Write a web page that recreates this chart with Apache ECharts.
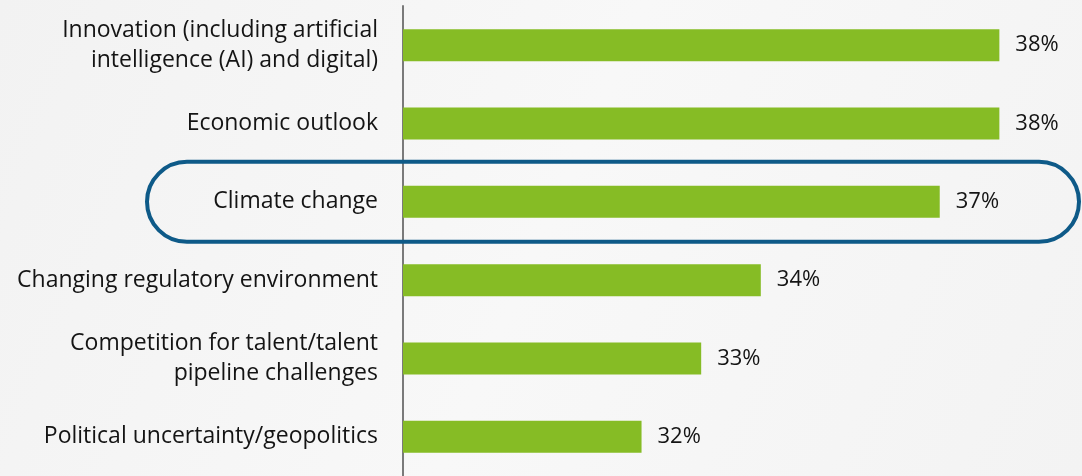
<!DOCTYPE html>
<html>
<head>
<meta charset="utf-8">
<script src="https://cdn.jsdelivr.net/npm/echarts@6/dist/echarts.min.js"></script>
<style>
  html, body { margin: 0; padding: 0; }
  #chart { width: 1082px; height: 476px; }
</style>
</head>
<body>
<div id="chart"></div>
<script>
const categories = [
  "Innovation (including artificial\nintelligence (AI) and digital)",
  "Economic outlook",
  "Climate change",
  "Changing regulatory environment",
  "Competition for talent/talent\npipeline challenges",
  "Political uncertainty/geopolitics"
];
const values = [38, 38, 37, 34, 33, 32];
const highlighted = "Climate change";

const chart = echarts.init(document.getElementById("chart"));
chart.setOption({
  backgroundColor: {
    type: "linear", x: 0, y: 0, x2: 1, y2: 1,
    colorStops: [
      { offset: 0, color: "#f2f2f2" },
      { offset: 0.5, color: "#f8f8f8" },
      { offset: 1, color: "#f3f3f3" }
    ]
  },
  textStyle: { fontFamily: "Open Sans" },
  animation: false,
  grid: { left: 403, right: 23, top: 6, bottom: 0 },
  xAxis: {
    type: "value",
    min: 28,
    max: 39,
    show: false
  },
  yAxis: {
    type: "category",
    inverse: true,
    data: categories,
    axisLine: { show: true, lineStyle: { color: "#7a7a7a", width: 2 } },
    axisTick: { show: false },
    axisLabel: {
      color: "#141414",
      fontSize: 23,
      margin: 25,
      lineHeight: 30,
      align: "right"
    }
  },
  series: [{
    type: "bar",
    data: values,
    barWidth: 32,
    itemStyle: { color: "#86bc25" },
    label: {
      show: true,
      position: "right",
      distance: 16,
      fontSize: 22,
      color: "#141414",
      formatter: "{c}%"
    }
  }]
});

// rounded outline around the highlighted row
const yc = chart.convertToPixel({ yAxisIndex: 0 }, highlighted);
chart.setOption({
  graphic: [{
    type: "rect",
    shape: { x: 147, y: yc - 40, width: 932, height: 80, r: 40 },
    style: { fill: "none", stroke: "#0e5a88", lineWidth: 4 },
    z: 10
  }]
});
</script>
</body>
</html>
